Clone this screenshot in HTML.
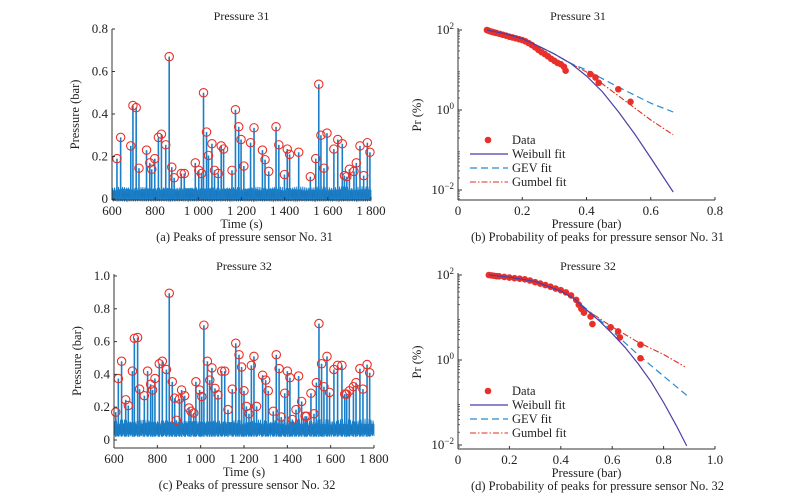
<!DOCTYPE html>
<html><head><meta charset="utf-8"><style>
html,body{margin:0;padding:0;background:#fff;}
svg{display:block;font-family:"Liberation Serif",serif;}
</style></head><body>
<svg id="fig" width="793" height="504" viewBox="0 0 793 504" xmlns="http://www.w3.org/2000/svg"></svg>
<script>
// ---- data: panel (a) peaks sensor 31 ----
const peakTimes31=[623,640,687,697,712,725,760,775,784,798,815,829,849,865,877,888,921,935,986,1002,1015,1024,1038,1047,1063,1075,1092,1106,1117,1156,1172,1187,1198,1211,1242,1258,1297,1309,1326,1360,1373,1399,1412,1423,1465,1519,1544,1558,1568,1582,1596,1628,1646,1667,1677,1688,1700,1721,1732,1749,1766,1783,1795];
const peakValues31=[0.19,0.29,0.25,0.44,0.43,0.145,0.23,0.17,0.14,0.19,0.29,0.305,0.255,0.67,0.15,0.10,0.12,0.12,0.17,0.135,0.12,0.50,0.315,0.205,0.26,0.135,0.12,0.25,0.235,0.135,0.42,0.34,0.28,0.155,0.265,0.335,0.23,0.185,0.13,0.34,0.255,0.115,0.235,0.21,0.22,0.105,0.19,0.54,0.30,0.145,0.31,0.235,0.28,0.26,0.11,0.105,0.14,0.13,0.17,0.25,0.11,0.265,0.22];
// ---- panel (c) peaks sensor 32 ----
const peakTimes32=[608,620,635,654,666,685,694,709,718,740,755,769,778,789,809,823,842,855,869,880,888,902,912,926,946,955,968,978,995,1005,1015,1031,1042,1052,1066,1080,1097,1111,1126,1146,1162,1177,1189,1200,1211,1223,1234,1246,1258,1286,1300,1312,1335,1349,1362,1372,1388,1400,1412,1423,1440,1452,1466,1482,1489,1509,1523,1534,1546,1558,1569,1583,1595,1615,1632,1652,1665,1674,1686,1705,1717,1735,1749,1768,1780];
const peakValues32=[0.17,0.375,0.48,0.245,0.21,0.42,0.62,0.625,0.31,0.27,0.42,0.34,0.305,0.375,0.465,0.48,0.43,0.895,0.355,0.255,0.12,0.25,0.305,0.27,0.195,0.175,0.165,0.355,0.305,0.265,0.70,0.48,0.365,0.44,0.315,0.275,0.42,0.42,0.185,0.31,0.59,0.52,0.445,0.30,0.205,0.16,0.455,0.51,0.205,0.395,0.365,0.30,0.175,0.52,0.435,0.14,0.285,0.42,0.38,0.125,0.185,0.39,0.235,0.145,0.145,0.285,0.16,0.35,0.71,0.465,0.325,0.51,0.29,0.43,0.455,0.455,0.28,0.28,0.30,0.325,0.35,0.435,0.31,0.46,0.41];
const timeTicks=[600,800,1000,1200,1400,1600,1800];
const timeTickLabels=["600","800","1 000","1 200","1 400","1 600","1 800"];
const presTicks31=[0,0.2,0.4,0.6,0.8];
const presTickLabels31=["0","0.2","0.4","0.6","0.8"];
const presTicks32=[0,0.2,0.4,0.6,0.8,1.0];
const presTickLabels32=["0","0.2","0.4","0.6","0.8","1.0"];
// ---- panel (b) probability sensor 31 ----
const probP31=[0.09,0.095,0.10,0.105,0.11,0.115,0.12,0.13,0.14,0.15,0.16,0.17,0.18,0.19,0.2,0.21,0.22,0.23,0.24,0.25,0.26,0.27,0.28,0.29,0.30,0.31,0.32,0.33,0.335,0.412,0.428,0.438,0.499,0.537];
const probPr31=[100,96,93,90,88,86,84,80,76,72,68,65,62,59,56,52,47,42,37,32,28,25,22,19,17,15,14,12,9.6,7.9,6.5,4.8,3.3,1.6];
const weibX31=[0.09,0.15,0.2,0.25,0.3,0.35,0.4,0.45,0.5,0.55,0.6,0.67];
const weibLog31=[2,1.9,1.78,1.6,1.4,1.17,0.85,0.45,-0.05,-0.6,-1.2,-2.05];
const gevX31=[0.09,0.15,0.2,0.25,0.3,0.35,0.4,0.45,0.5,0.55,0.6,0.67];
const gevLog31=[2,1.9,1.78,1.6,1.4,1.17,1.0,0.78,0.57,0.37,0.17,-0.05];
const gumX31=[0.09,0.15,0.2,0.25,0.3,0.35,0.4,0.45,0.5,0.55,0.6,0.67];
const gumLog31=[2,1.9,1.78,1.6,1.4,1.17,0.95,0.65,0.35,0.05,-0.25,-0.62];
const probTicksX31=[0,0.2,0.4,0.6,0.8];
const probTickLabelsX31=["0","0.2","0.4","0.6","0.8"];
// ---- panel (d) probability sensor 32 ----
const probP32=[0.12,0.13,0.14,0.15,0.16,0.18,0.2,0.22,0.24,0.26,0.28,0.3,0.32,0.34,0.36,0.38,0.4,0.42,0.44,0.46,0.47,0.48,0.49,0.516,0.523,0.594,0.623,0.63,0.71,0.71];
const probPr32=[100,98,96,94,93,90,87,84,82,79,74,68,63,58,53,48,44,39,33,26,20,16,13,10.5,7,5.9,4.7,3.4,2.3,1.1];
const weibX32=[0.12,0.2,0.3,0.4,0.45,0.5,0.55,0.6,0.65,0.7,0.75,0.8,0.85,0.89];
const weibLog32=[2,1.95,1.85,1.62,1.45,1.18,0.92,0.62,0.3,-0.08,-0.5,-1.0,-1.55,-2.02];
const gevX32=[0.12,0.2,0.3,0.4,0.45,0.5,0.55,0.6,0.7,0.8,0.896];
const gevLog32=[2,1.95,1.85,1.62,1.45,1.2,0.95,0.68,0.13,-0.38,-0.86];
const gumX32=[0.12,0.2,0.3,0.4,0.45,0.5,0.55,0.6,0.7,0.8,0.883];
const gumLog32=[2,1.95,1.85,1.62,1.45,1.18,0.98,0.78,0.42,0.13,-0.16];
const probTicksX32=[0,0.2,0.4,0.6,0.8,1.0];
const probTickLabelsX32=["0","0.2","0.4","0.6","0.8","1.0"];
const logTicks=[2,0,-2];

const svg=document.getElementById('fig');
const NS='http://www.w3.org/2000/svg';
function el(tag,attrs,parent){const e=document.createElementNS(NS,tag);for(const k in attrs)e.setAttribute(k,attrs[k]);(parent||svg).appendChild(e);return e;}
function txt(x,y,s,size,anchor,parent){const t=el('text',{x:x,y:y,'font-size':size,'text-anchor':anchor||'middle',fill:'#222'},parent);t.textContent=s;return t;}
const BLUE='#1a7fc8',RED='#e8302a';

function tsPanel(o){
  const g=el('g',{});
  
  
  const X=t=>o.x0+(t-600)/1200*(o.x1-o.x0);
  const Y=v=>o.y0-(v)*o.ppu;
  // baseline noise band (decorative)
  let d='';
  for(let i=0;i<=520;i++){const t=600+i*1200/520;const n=o.bLo+o.bAmp*(0.7+0.3*Math.sin(i*2.3)*Math.cos(i*0.77));d+=(i?'L':'M')+X(t).toFixed(1)+' '+Y(n).toFixed(1);}
  for(let i=520;i>=0;i--){const t=600+i*1200/520;const n=o.bLo2+0.012*Math.sin(i*1.7);d+='L'+X(t).toFixed(1)+' '+Y(n).toFixed(1);}
  const band=el('path',{d:d+'Z',fill:'#1b78be',stroke:BLUE,'stroke-width':0.8},g);
  
  
  o.times.forEach((t,i)=>{
    const l=el('line',{x1:X(t),y1:Y(o.bLo),x2:X(t),y2:Y(o.vals[i]),stroke:BLUE,'stroke-width':1.6},g);
    
    
  });
  o.times.forEach((t,i)=>{
    const c=el('circle',{cx:X(t),cy:Y(o.vals[i]),r:4.2,fill:'none',stroke:RED,'stroke-width':1.1},g);
    
    
  });
  el('line',{x1:o.x0,y1:o.axY,x2:o.x1,y2:o.axY,stroke:'#333','stroke-width':1},g);
  el('line',{x1:o.x0,y1:o.axY,x2:o.x0,y2:o.yTop,stroke:'#333','stroke-width':1},g);
  timeTicks.forEach((t,i)=>{el('line',{x1:X(t),y1:o.axY,x2:X(t),y2:o.axY-3,stroke:'#333'},g);
    const tl=txt(X(t),o.axY+15,timeTickLabels[i],13,'middle',g);
    
    });
  o.yTicks.forEach((v,i)=>{el('line',{x1:o.x0,y1:Y(v),x2:o.x0+3,y2:Y(v),stroke:'#333'},g);
    const tl=txt(o.x0-4,Y(v)+4,o.yLabels[i],13,'end',g);
    
    });
  const tt=txt((o.x0+o.x1)/2,o.titleY,o.title,12,'middle',g);
  
  
  const xl=txt((o.x0+o.x1)/2,o.axY+28,'Time (s)',12.5,'middle',g);
  
  
  const yl=txt(0,0,'Pressure (bar)',12.5,'middle',g);
  yl.setAttribute('transform','translate('+(o.x0-33)+','+((o.yTop+o.axY)/2)+') rotate(-90)');
  
  
  const cap=txt((o.x0+o.x1)/2+3,o.axY+41,o.caption,12.5,'middle',g);
  
  
}

function probPanel(o){
  const g=el('g',{});
  
  
  const X=p=>o.x0+p/o.xMax*(o.x1-o.x0);
  const Y=lg=>o.yTop2+(2-lg)*o.ppd;
  el('line',{x1:o.x0,y1:o.axY,x2:o.x1,y2:o.axY,stroke:'#333'},g);
  el('line',{x1:o.x0,y1:o.axY,x2:o.x0,y2:o.yTop2-2,stroke:'#333'},g);
  o.xTicks.forEach((p,i)=>{el('line',{x1:X(p),y1:o.axY,x2:X(p),y2:o.axY-3,stroke:'#333'},g);
    const tl=txt(X(p),o.axY+15,o.xLabels[i],13,'middle',g);
    
    });
  logTicks.forEach(lg=>{el('line',{x1:o.x0,y1:Y(lg),x2:o.x0+4,y2:Y(lg),stroke:'#333'},g);
    const t=el('text',{x:o.x0-4,y:Y(lg)+4,'font-size':13,'text-anchor':'end',fill:'#222'},g);
    
    
    t.textContent='10';const s=el('tspan',{dy:-5,'font-size':9},t);s.textContent=String(lg).replace('-','\u2212');});
  for(let dec=-3;dec<2;dec++)for(let m=2;m<10;m++){const lg=dec+Math.log10(m);const y=Y(lg);if(y<=o.axY&&y>=o.yTop2)el('line',{x1:o.x0,y1:y,x2:o.x0+2,y2:y,stroke:'#333','stroke-width':0.7},g);}
  const line=(xs,ls,attrs,name)=>{const pts=xs.map((x,i)=>X(x).toFixed(1)+','+Y(ls[i]).toFixed(1)).join(' ');
    const p=el('polyline',Object.assign({points:pts,fill:'none'},attrs),g);
    
    };
  line(o.gumX,o.gumL,{stroke:'#e03020','stroke-width':1.1,'stroke-dasharray':'6 2 1.5 2'},'gumbel-fit-line');
  line(o.gevX,o.gevL,{stroke:'#2a8ad0','stroke-width':1.2,'stroke-dasharray':'7 4'},'gev-fit-line');
  o.p.forEach((p,i)=>{const c=el('circle',{cx:X(p),cy:Y(Math.log10(o.pr[i])),r:3.3,fill:RED},g);
    
    });
  line(o.wX,o.wL,{stroke:'#4a3fa8','stroke-width':1.2},'weibull-fit-line');
  const tt=txt(o.titleX,o.titleY,o.title,12,'middle',g);
  
  
  const xl=txt((o.x0+o.x1)/2,o.axY+28,'Pressure (bar)',12.5,'middle',g);
  
  
  const yl=txt(0,0,'Pr (%)',12.5,'middle',g);
  yl.setAttribute('transform','translate('+(o.x0-37)+','+((o.yTop2+o.axY)/2)+') rotate(-90)');
  
  
  const cap=txt((o.x0+o.x1)/2+11,o.axY+41,o.caption,12.5,'middle',g);
  
  
  const lg=el('g',{},g);
  
  
  const L=o.legY, lx=470;
  const e1=el('circle',{cx:488,cy:L,r:3.3,fill:RED},lg);
  
  
  el('line',{x1:lx,y1:L+o.legDy,x2:lx+38,y2:L+o.legDy,stroke:'#4a3fa8','stroke-width':1.2},lg);
  el('line',{x1:lx,y1:L+2*o.legDy,x2:lx+38,y2:L+2*o.legDy,stroke:'#2a8ad0','stroke-width':1.2,'stroke-dasharray':'7 4'},lg);
  el('line',{x1:lx,y1:L+3*o.legDy,x2:lx+38,y2:L+3*o.legDy,stroke:'#e03020','stroke-width':1.1,'stroke-dasharray':'6 2 1.5 2'},lg);
  ['Data','Weibull fit','GEV fit','Gumbel fit'].forEach((s,i)=>{const t=txt(512,L+i*o.legDy+4,s,12.5,'start',lg);
    
    });
}

tsPanel({name:'panel-a-peaks-31',x0:112,x1:371,y0:199,axY:200,yTop:29,ppu:212.5,bLo:0.0,bLo2:0.0,bAmp:0.06,
  times:peakTimes31,vals:peakValues31,yTicks:presTicks31,yLabels:presTickLabels31,title:'Pressure 31',titleY:20,caption:'(a) Peaks of pressure sensor No. 31'});
tsPanel({name:'panel-c-peaks-32',x0:114,x1:374,y0:440,axY:448,yTop:274,ppu:164,bLo:0.02,bLo2:0.035,bAmp:0.11,
  times:peakTimes32,vals:peakValues32,yTicks:presTicks32,yLabels:presTickLabels32,title:'Pressure 32',titleY:270,caption:'(c) Peaks of pressure sensor No. 32'});
probPanel({name:'panel-b-probability-31',x0:458,x1:715,xMax:0.8,yTop2:30,ppd:40,axY:200,
  p:probP31,pr:probPr31,wX:weibX31,wL:weibLog31,gevX:gevX31,gevL:gevLog31,gumX:gumX31,gumL:gumLog31,
  xTicks:probTicksX31,xLabels:probTickLabelsX31,title:'Pressure 31',titleX:578,titleY:20,legY:140,legDy:14,caption:'(b) Probability of peaks for pressure sensor No. 31'});
probPanel({name:'panel-d-probability-32',x0:458,x1:715,xMax:1.0,yTop2:275,ppd:42.5,axY:449,
  p:probP32,pr:probPr32,wX:weibX32,wL:weibLog32,gevX:gevX32,gevL:gevLog32,gumX:gumX32,gumL:gumLog32,
  xTicks:probTicksX32,xLabels:probTickLabelsX32,title:'Pressure 32',titleX:588,titleY:270,legY:391,legDy:14,caption:'(d) Probability of peaks for pressure sensor No. 32'});
</script>
</body></html>
